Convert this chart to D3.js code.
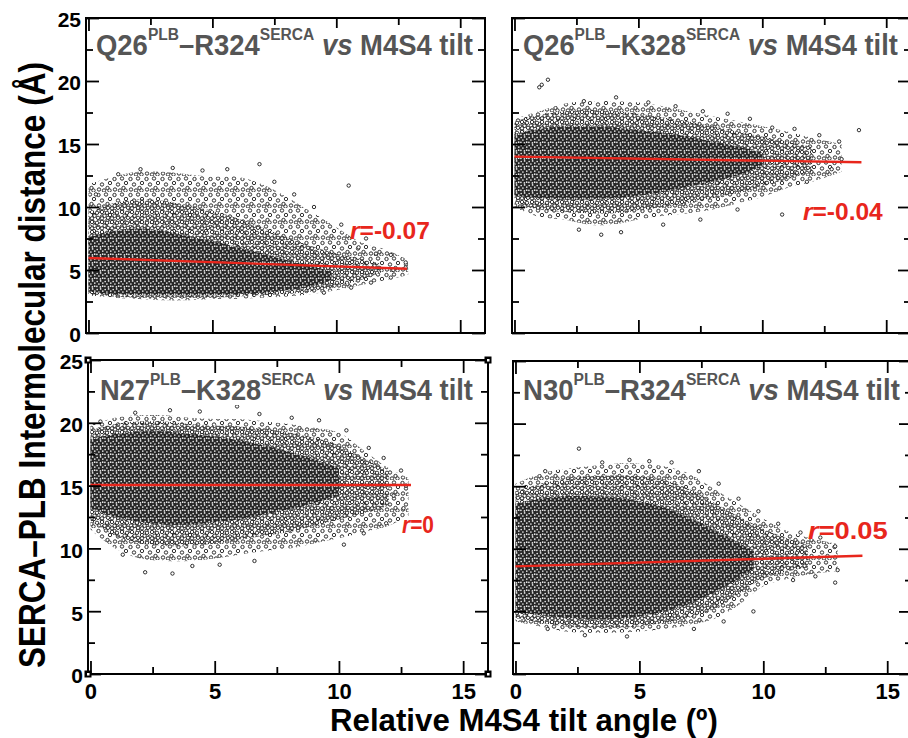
<!DOCTYPE html>
<html><head><meta charset="utf-8">
<script src="https://cdn.jsdelivr.net/npm/d3@7"></script>
<style>body{margin:0;background:#fff}svg{display:block}</style>
</head><body>
<svg id="c" width="908" height="738"></svg>
<script>
// ---------- DATA ----------
const xMajorTicks = [0, 5, 10, 15];
const xMinorTicks = [2.5, 7.5, 12.5];
const yMajorTicks = [0, 5, 10, 15, 20, 25];
const yMinorTicks = [2.5, 7.5, 12.5, 17.5, 22.5];

const titleRes1 = ["Q26", "Q26", "N27", "N30"];
const titleRes2 = ["R324", "K328", "K328", "R324"];
const rValues = ["-0.07", "-0.04", "0", "0.05"];

// regression line end points [x0, y0, x1, y1]
const fitTL = [0, 5.95, 12.85, 5.1];
const fitTR = [0, 14.0, 14.0, 13.55];
const fitBL = [0, 15.05, 12.9, 15.05];
const fitBR = [0, 8.6, 14.0, 9.45];

// point-cloud envelopes (x, lower, upper): outer fringe, medium, dense core
const tlX      = [0, 1, 2, 3, 4, 5, 6, 7, 8, 9, 10, 11, 12, 12.9];
const tlOutLo  = [3.0, 2.8, 2.7, 2.6, 2.6, 2.7, 2.7, 2.8, 2.9, 3.1, 3.4, 3.8, 4.2, 4.6];
const tlOutHi  = [11.8, 12.4, 12.8, 12.8, 12.6, 12.4, 12.4, 11.8, 10.8, 9.6, 8.4, 7.2, 6.6, 5.8];
const tlMidX   = [0, 1, 2, 3, 4, 5, 6, 7, 8, 9, 10, 11, 11.8];
const tlMidLo  = [3.1, 2.9, 2.8, 2.8, 2.8, 2.8, 2.9, 3.0, 3.1, 3.3, 3.7, 4.2, 4.8];
const tlMidHi  = [9.6, 10.3, 10.6, 10.5, 10.1, 9.7, 9.1, 8.4, 7.6, 6.9, 6.3, 5.9, 5.5];
const tlCoreX  = [0, 1, 2, 3, 4, 5, 6, 7, 8, 9, 9.8];
const tlCoreLo = [3.3, 3.1, 3.0, 3.0, 3.0, 3.0, 3.1, 3.2, 3.4, 3.7, 4.2];
const tlCoreHi = [7.6, 8.1, 8.3, 8.1, 7.7, 7.3, 6.8, 6.3, 5.8, 5.3, 4.9];

const trX      = [0, 1, 2, 3, 4, 5, 6, 7, 8, 9, 10, 11, 12, 13.2];
const trOutLo  = [10.0, 9.2, 9.0, 8.6, 8.6, 9.0, 9.3, 9.5, 9.8, 10.3, 10.8, 11.5, 12.0, 12.8];
const trOutHi  = [17.0, 17.6, 18.2, 18.4, 18.4, 18.3, 18.0, 17.6, 17.2, 16.8, 16.4, 16.0, 15.5, 15.0];
const trMidX   = [0, 1, 2, 3, 4, 5, 6, 7, 8, 9, 10, 11, 12];
const trMidLo  = [10.3, 9.8, 9.6, 9.5, 9.5, 9.7, 10.0, 10.3, 10.7, 11.1, 11.6, 12.2, 12.8];
const trMidHi  = [16.8, 17.3, 17.6, 17.7, 17.6, 17.4, 17.1, 16.8, 16.4, 16.0, 15.6, 15.2, 14.8];
const trCoreX  = [0, 1, 2, 3, 4, 5, 6, 7, 8, 9, 10];
const trCoreLo = [10.9, 10.7, 10.6, 10.6, 10.7, 10.9, 11.2, 11.6, 12.0, 12.5, 13.2];
const trCoreHi = [15.8, 16.2, 16.4, 16.4, 16.3, 16.1, 15.9, 15.6, 15.2, 14.8, 14.3];

const blX      = [0, 1, 2, 3, 4, 5, 6, 7, 8, 9, 10, 11, 12, 12.8];
const blOutLo  = [11.5, 10.0, 9.2, 9.0, 9.0, 9.2, 9.5, 9.8, 10.0, 10.4, 10.8, 11.3, 11.8, 12.6];
const blOutHi  = [19.8, 20.4, 20.6, 20.6, 20.4, 20.3, 20.3, 20.1, 19.9, 19.6, 19.2, 17.8, 16.4, 15.6];
const blMidX   = [0, 1, 2, 3, 4, 5, 6, 7, 8, 9, 10, 11, 12];
const blMidLo  = [12.2, 11.0, 10.4, 10.2, 10.2, 10.4, 10.7, 11.0, 11.3, 11.8, 12.3, 12.8, 13.4];
const blMidHi  = [19.4, 19.9, 20.1, 20.1, 19.9, 19.8, 19.7, 19.5, 19.2, 18.8, 18.2, 17.2, 16.2];
const blCoreX  = [0, 1, 2, 3, 4, 5, 6, 7, 8, 9, 10];
const blCoreLo = [13.2, 12.5, 12.1, 11.9, 11.9, 12.1, 12.3, 12.7, 13.1, 13.6, 14.2];
const blCoreHi = [18.7, 19.1, 19.3, 19.3, 19.1, 18.9, 18.6, 18.2, 17.7, 17.1, 16.4];

const brX      = [0, 1, 2, 3, 4, 5, 6, 7, 8, 9, 10, 11, 12, 13.0];
const brOutLo  = [4.2, 3.8, 3.4, 3.3, 3.3, 3.4, 3.6, 3.9, 4.4, 5.5, 7.0, 7.6, 8.0, 8.2];
const brOutHi  = [15.2, 16.0, 16.4, 16.6, 16.8, 16.8, 16.6, 16.0, 14.8, 13.6, 12.4, 11.4, 10.8, 10.4];
const brMidX   = [0, 1, 2, 3, 4, 5, 6, 7, 8, 9, 10, 11, 11.8];
const brMidLo  = [4.5, 4.1, 3.8, 3.7, 3.7, 3.8, 4.1, 4.5, 5.2, 6.4, 7.6, 8.2, 8.5];
const brMidHi  = [14.6, 15.2, 15.6, 15.8, 15.9, 15.8, 15.5, 14.8, 13.7, 12.6, 11.6, 10.8, 10.3];
const brCoreX  = [0, 1, 2, 3, 4, 5, 6, 7, 8, 9, 9.6];
const brCoreLo = [5.0, 4.7, 4.5, 4.4, 4.4, 4.6, 5.0, 5.6, 6.5, 7.6, 8.4];
const brCoreHi = [13.6, 14.0, 14.2, 14.2, 14.1, 13.8, 13.3, 12.5, 11.5, 10.5, 9.8];

// isolated points
const tlPtX = [0.3, 1.2, 2.1, 3.4, 4.6, 5.6, 6.9, 7.5, 8.3, 9.1, 10.5, 10.2, 11.2, 11.6, 12.2, 12.8, 12.8, 12.2, 11.4, 10.6, 9.5, 10.9, 12.3];
const tlPtY = [11.0, 12.6, 13.0, 13.1, 12.9, 13.0, 13.4, 12.0, 11.0, 10.0, 11.7, 8.6, 7.5, 6.3, 6.2, 5.6, 5.2, 4.4, 4.0, 3.6, 3.2, 6.8, 5.0];
const trPtX = [1.1, 1.35, 1.0, 2.8, 4.1, 5.4, 6.5, 7.6, 8.6, 9.5, 10.4, 11.3, 12.3, 13.1, 13.9, 12.8, 13.2, 11.8, 10.8, 3.5, 2.6, 4.3, 6.0, 7.5, 9.0];
const trPtY = [19.7, 20.1, 19.5, 18.4, 18.7, 18.3, 18.0, 17.6, 17.4, 17.0, 16.3, 16.2, 15.7, 15.2, 16.1, 13.0, 13.8, 12.0, 9.4, 7.8, 8.2, 8.0, 8.6, 9.0, 9.8];
const blPtX = [5.9, 9.2, 0.4, 1.8, 3.2, 4.4, 6.8, 8.1, 10.3, 11.2, 11.8, 12.5, 12.7, 12.6, 11.9, 11.0, 10.2, 2.2, 3.3, 4.1, 5.2, 6.6, 1.3, 12.2];
const blPtY = [21.3, 20.2, 20.1, 20.8, 21.0, 20.9, 20.7, 20.4, 19.4, 18.0, 17.2, 16.2, 15.0, 13.2, 12.0, 11.2, 10.3, 8.1, 8.0, 8.6, 8.7, 9.0, 9.5, 14.2];
const brPtX = [2.56, 1.2, 3.5, 4.6, 5.4, 6.3, 7.4, 8.2, 9.0, 9.8, 10.6, 11.5, 12.3, 12.9, 13.0, 12.9, 12.1, 11.2, 9.6, 8.4, 7.2, 2.8, 4.5, 1.3];
const brPtY = [18.0, 16.2, 16.9, 17.1, 17.0, 16.9, 16.2, 15.2, 14.0, 13.0, 12.0, 11.3, 10.9, 10.2, 8.3, 7.3, 7.8, 7.5, 5.0, 4.2, 3.6, 3.1, 3.0, 3.6];

// ---------- LAYOUT ----------
const frames = [
  {L: 86,  R: 485, T: 18,  B: 333, yLabels: true,  xLabels: false, titleX: 96,  titleW: 377, titleY: 55,  rX: 350, rW: 80, rY: 239},
  {L: 512, R: 911, T: 18,  B: 333, yLabels: false, xLabels: false, titleX: 523, titleW: 375, titleY: 55,  rX: 803, rW: 80, rY: 220},
  {L: 88,  R: 488, T: 360, B: 674, yLabels: true,  xLabels: true,  titleX: 100, titleW: 373, titleY: 400, rX: 402, rW: 32, rY: 533},
  {L: 513, R: 912, T: 361, B: 674, yLabels: false, xLabels: true,  titleX: 523, titleW: 377, titleY: 400, rX: 808, rW: 80, rY: 539}
];
const zip = (xs, lo, hi) => xs.map((v, i) => [v, lo[i], hi[i]]);
const pts = (xs, ys) => xs.map((v, i) => [v, ys[i]]);
const panelData = [
  {outer: zip(tlX, tlOutLo, tlOutHi), mid: zip(tlMidX, tlMidLo, tlMidHi), core: zip(tlCoreX, tlCoreLo, tlCoreHi), pts: pts(tlPtX, tlPtY), fit: fitTL},
  {outer: zip(trX, trOutLo, trOutHi), mid: zip(trMidX, trMidLo, trMidHi), core: zip(trCoreX, trCoreLo, trCoreHi), pts: pts(trPtX, trPtY), fit: fitTR},
  {outer: zip(blX, blOutLo, blOutHi), mid: zip(blMidX, blMidLo, blMidHi), core: zip(blCoreX, blCoreLo, blCoreHi), pts: pts(blPtX, blPtY), fit: fitBL},
  {outer: zip(brX, brOutLo, brOutHi), mid: zip(brMidX, brMidLo, brMidHi), core: zip(brCoreX, brCoreLo, brCoreHi), pts: pts(brPtX, brPtY), fit: fitBR}
];

const FONT = "'Liberation Sans', Arial, Helvetica, sans-serif";
const svg = d3.select("#c");
svg.append("rect").attr("width", 908).attr("height", 738).attr("fill", "#fff");

// textures (style only)
const defs = svg.append("defs");
function ringPattern(id, w, h, list) {
  const p = defs.append("pattern").attr("id", id).attr("patternUnits", "userSpaceOnUse")
    .attr("width", w).attr("height", h);
  list.forEach(c => p.append("circle").attr("cx", c[0]).attr("cy", c[1]).attr("r", 1.7)
    .attr("fill", "#fff").attr("stroke", "#1a1a1a").attr("stroke-width", 0.9));
}
ringPattern("sparse", 16, 16, [[2.5,3],[10,2.5],[14,7],[6,8.5],[11.5,12],[3,13.5],[8,14.5],[13.5,14.5]]);
ringPattern("mid", 10, 10, [[2,2],[7,2.8],[4.6,5.8],[8,7.8],[2,8.3]]);
const pDense = defs.append("pattern").attr("id", "dense").attr("patternUnits", "userSpaceOnUse")
  .attr("width", 8).attr("height", 8);
pDense.append("rect").attr("width", 8).attr("height", 8).attr("fill", "#262626");
[[1.2,1.5],[4.6,0.9],[6.8,3.1],[2.9,4.0],[0.9,6.3],[4.4,6.9],[6.7,6.2]].forEach(c =>
  pDense.append("circle").attr("cx", c[0]).attr("cy", c[1]).attr("r", 0.85).attr("fill", "#e6e6e6"));

function fitWidth(sel, x0, w) {
  const bb = sel.node().getBBox();
  const s = w / bb.width;
  sel.attr("transform", `translate(${x0},0) scale(${s},1) translate(${-bb.x},0)`);
}

frames.forEach((f, i) => {
  const d = panelData[i];
  const g = svg.append("g");
  const x = d3.scaleLinear().domain([-0.1, 16]).range([f.L, f.R]);
  const y = d3.scaleLinear().domain([0, 25]).range([f.B, f.T]);

  const area = d3.area().x(p => x(p[0])).y0(p => y(p[1])).y1(p => y(p[2])).curve(d3.curveCatmullRom);
  g.append("path").attr("d", area(d.outer)).attr("fill", "url(#sparse)");
  g.append("path").attr("d", area(d.mid)).attr("fill", "url(#mid)");
  g.append("path").attr("d", area(d.core)).attr("fill", "url(#dense)");
  g.selectAll("circle.pt").data(d.pts).join("circle").attr("class", "pt")
    .attr("cx", p => x(p[0])).attr("cy", p => y(p[1])).attr("r", 1.7)
    .attr("fill", "#fff").attr("stroke", "#1a1a1a").attr("stroke-width", 0.9);

  // regression line
  g.append("path").attr("d", d3.line()([[x(d.fit[0]), y(d.fit[1])], [x(d.fit[2]), y(d.fit[3])]]))
    .attr("stroke", "#e8261c").attr("stroke-width", 2.4).attr("fill", "none");

  // axes (ticks inward on all sides)
  const mk = (axisFn, scale, vals, size, tx, ty, labels) => {
    const a = axisFn(scale).tickValues(vals).tickSize(size).tickPadding(labels ? 9 : 3);
    if (!labels) a.tickFormat("");
    const ag = g.append("g").attr("transform", `translate(${tx},${ty})`).call(a);
    ag.select(".domain").remove();
    ag.selectAll("line").attr("stroke", "#000").attr("stroke-width", 1.8);
    return ag;
  };
  const bx = mk(d3.axisBottom, x, xMajorTicks, -13, 0, f.B, f.xLabels);
  mk(d3.axisBottom, x, xMinorTicks, -7, 0, f.B, false);
  mk(d3.axisTop, x, xMajorTicks, -13, 0, f.T, false);
  mk(d3.axisTop, x, xMinorTicks, -7, 0, f.T, false);
  const ly = mk(d3.axisLeft, y, yMajorTicks, -13, f.L, 0, f.yLabels);
  mk(d3.axisLeft, y, yMinorTicks, -7, f.L, 0, false);
  mk(d3.axisRight, y, yMajorTicks, -13, f.R, 0, false);
  mk(d3.axisRight, y, yMinorTicks, -7, f.R, 0, false);
  if (f.xLabels) bx.selectAll("text").attr("font-family", FONT).attr("font-weight", "bold")
      .attr("font-size", 22).attr("fill", "#000");
  if (f.yLabels) ly.selectAll("text").attr("font-family", FONT).attr("font-weight", "bold")
      .attr("font-size", 21).attr("fill", "#000").attr("x", -5).attr("dy", "0.42em");

  // frame
  g.append("rect").attr("x", f.L).attr("y", f.T).attr("width", f.R - f.L).attr("height", f.B - f.T)
    .attr("fill", "none").attr("stroke", "#000").attr("stroke-width", 2);

  // title with white backing
  const tbg = g.append("rect").attr("fill", "#fff");
  const t = g.append("text").attr("x", 0).attr("y", f.titleY).attr("font-family", FONT)
    .attr("font-weight", "bold").attr("font-size", 30).attr("fill", "#555");
  t.append("tspan").text(titleRes1[i]);
  t.append("tspan").attr("font-size", 17).attr("dy", -15).text("PLB");
  t.append("tspan").attr("dy", 15).text("\u2013" + titleRes2[i]);
  t.append("tspan").attr("font-size", 17).attr("dy", -15).text("SERCA");
  t.append("tspan").attr("dy", 15).attr("font-style", "italic").text(" vs");
  t.append("tspan").text(" M4S4 tilt");
  fitWidth(t, f.titleX, f.titleW);
  tbg.attr("x", f.titleX - 3).attr("y", f.titleY - 27).attr("width", f.titleW + 6).attr("height", 32);

  // r label
  const r = g.append("text").attr("x", 0).attr("y", f.rY).attr("font-family", FONT)
    .attr("font-weight", "bold").attr("font-size", 23).attr("fill", "#e8261c");
  r.append("tspan").attr("font-style", "italic").text("r");
  r.append("tspan").text("=" + rValues[i]);
  fitWidth(r, f.rX, f.rW);

  if (i === 2) {
    [[f.L, f.T], [f.R, f.T], [f.L, f.B], [f.R, f.B]].forEach(c => {
      g.append("rect").attr("x", c[0] - 3.5).attr("y", c[1] - 3.5).attr("width", 7).attr("height", 7).attr("fill", "#000");
      g.append("rect").attr("x", c[0] - 1).attr("y", c[1] - 1).attr("width", 2.5).attr("height", 2.5).attr("fill", "#fff");
    });
  }
});

// axis titles
const xt = svg.append("text").attr("x", 0).attr("y", 731).attr("font-family", FONT)
  .attr("font-weight", "bold").attr("font-size", 32).attr("fill", "#000")
  .text("Relative M4S4 tilt angle (\u00ba)");
fitWidth(xt, 330, 388);

const yg = svg.append("g").attr("transform", "translate(45,365) rotate(-90)");
const yt = yg.append("text").attr("x", 0).attr("y", 0).attr("font-family", FONT)
  .attr("font-weight", "bold").attr("font-size", 36).attr("fill", "#000")
  .text("SERCA\u2013PLB Intermolecular distance (\u00c5)");
fitWidth(yt, -303, 606);
</script>
</body></html>
